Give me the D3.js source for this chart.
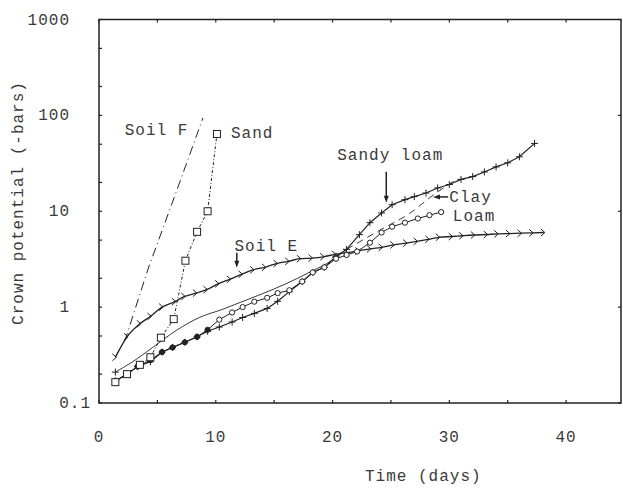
<!DOCTYPE html>
<html>
<head>
<meta charset="utf-8">
<script src="https://cdn.jsdelivr.net/npm/d3@7"></script>
<style>
body { margin: 0; background: #fff; }
text { font-family: "Liberation Mono", "DejaVu Sans Mono", monospace; font-size: 16px; letter-spacing: 1px; fill: #3a3a3a; }
</style>
</head>
<body>
<script>
// data: [day, crown potential (-bars)]
var soilF = [[1.4, 0.3], [2.3, 0.48], [4.2, 2.5], [6.7, 17], [8.9, 94]];
var sand = [[1.4, 0.165], [2.4, 0.2], [3.5, 0.25], [4.4, 0.3], [5.3, 0.48], [6.4, 0.75], [7.4, 3.05], [8.4, 6.1], [9.3, 10], [10.1, 64]];
var soilE = [[1.4, 0.3], [2.4, 0.49], [3.5, 0.67], [4.4, 0.8], [5.4, 1.0], [6.5, 1.14], [7.3, 1.29], [8.3, 1.4], [9.2, 1.52], [10.2, 1.75],
	[11.2, 1.95], [12.2, 2.2], [13.2, 2.45], [14.2, 2.6], [15.2, 2.85], [16.2, 3.0], [17.2, 3.2], [18.2, 3.25], [19.2, 3.35], [20.2, 3.55],
	[21.2, 3.7], [22.2, 3.85], [23.2, 4.05], [24.2, 4.2], [25.2, 4.45], [26.3, 4.65], [27.2, 4.85], [28.2, 5.1], [29.1, 5.35], [30.2, 5.45],
	[31.1, 5.55], [32.1, 5.65], [33.2, 5.72], [34.1, 5.8], [35.1, 5.85], [36.1, 5.9], [37.1, 5.95], [38.1, 6.0]];
var sandyLoam = [[1.4, 0.17], [2.4, 0.2], [3.3, 0.24], [4.4, 0.27], [5.4, 0.34], [6.3, 0.38], [7.35, 0.43], [8.4, 0.49], [9.3, 0.56],
	[10.3, 0.62], [11.4, 0.7], [12.3, 0.78], [13.3, 0.86], [14.4, 0.97], [15.3, 1.15], [16.3, 1.45], [17.4, 1.85], [18.3, 2.3], [19.3, 2.6],
	[20.3, 3.4], [21.2, 4.0], [22.3, 5.7], [23.2, 7.6], [24.2, 9.6], [25.1, 11.7], [26.2, 13.2], [27, 14.2], [28, 15.5], [29, 17.5], [30, 19],
	[31, 21.5], [32, 23], [33, 25.7], [34, 29], [35, 32], [36, 37], [37.3, 51]];
var loam = [[1.4, 0.17], [2.4, 0.2], [3.3, 0.24], [4.4, 0.28], [5.4, 0.34], [6.3, 0.38], [7.35, 0.43], [8.4, 0.49], [9.3, 0.58],
	[10.3, 0.74], [11.4, 0.88], [12.3, 1.0], [13.3, 1.14], [14.4, 1.25], [15.3, 1.4], [16.3, 1.5], [17.4, 1.85], [18.3, 2.3], [19.3, 2.6],
	[20.3, 3.2], [21.2, 3.5], [22.1, 3.8], [23.2, 4.7], [24.2, 6.0], [25.1, 6.9], [26.2, 7.6], [27.3, 8.4], [28.3, 9.1], [29.3, 9.8]];
var clay = [[1.4, 0.21], [2.9, 0.27], [4.6, 0.38], [6.7, 0.58], [8.6, 0.78], [10.6, 0.95], [12.1, 1.12], [14, 1.38], [16, 1.75],
	[18, 2.3], [20, 3.1], [21.2, 4.0], [24, 6.3], [26.6, 9.5], [28.7, 15], [30.5, 21]];
var clayDashFrom = 21.2;

var xTicks = [0, 10, 20, 30, 40];
var xMinor = [0, 5, 10, 15, 20, 25, 30, 35, 40];
var yTicks = [0.1, 1, 10, 100, 1000];
var yMinor = [0.2, 0.5, 2, 5, 20, 50, 200, 500];

var width = 623, height = 488;
var svg = d3.select('body').append('svg')
	.attr('width', width)
	.attr('height', height);

var x = d3.scaleLinear().domain([0, 44.7]).range([99, 621]);
var y = d3.scaleLog().domain([0.1, 1000]).range([403, 19.5]);

var ink = '#222';

// frame
svg.append('rect')
	.attr('x', x(0)).attr('y', y(1000))
	.attr('width', x(44.7) - x(0)).attr('height', y(0.1) - y(1000))
	.attr('fill', 'none').attr('stroke', ink).attr('stroke-width', 1.5);

// ticks (inward)
var tk = svg.append('g').attr('stroke', ink).attr('stroke-width', 1.2);
xMinor.forEach(function (d) {
	tk.append('line').attr('x1', x(d)).attr('x2', x(d)).attr('y1', y(0.1)).attr('y2', y(0.1) - 3);
	tk.append('line').attr('x1', x(d)).attr('x2', x(d)).attr('y1', y(1000)).attr('y2', y(1000) + 3);
});
yTicks.concat(yMinor).forEach(function (d) {
	tk.append('line').attr('x1', x(0)).attr('x2', x(0) + 3).attr('y1', y(d)).attr('y2', y(d));
});
yTicks.forEach(function (d) {
	tk.append('line').attr('x1', x(44.7)).attr('x2', x(44.7) - 3).attr('y1', y(d)).attr('y2', y(d));
});

// tick labels
svg.append('g').selectAll('text').data(xTicks).join('text')
	.attr('x', function (d) { return x(d); })
	.attr('y', 442)
	.attr('text-anchor', 'middle')
	.text(function (d) { return d; });

svg.append('g').selectAll('text').data(yTicks).join('text')
	.attr('x', function (d) { return d < 1 ? 91 : 70; })
	.attr('y', function (d) { return y(d) + 5; })
	.attr('text-anchor', 'end')
	.text(function (d) { return d; });

// axis titles
svg.append('text')
	.attr('x', 365).attr('y', 481)
	.text('Time (days)');
svg.append('text')
	.attr('transform', 'translate(23,203) rotate(-90)')
	.attr('text-anchor', 'middle')
	.text('Crown potential (-bars)');

// lines
var line = d3.line()
	.x(function (d) { return x(d[0]); })
	.y(function (d) { return y(d[1]); });
var smooth = d3.line().curve(d3.curveMonotoneX)
	.x(function (d) { return x(d[0]); })
	.y(function (d) { return y(d[1]); });

var plot = svg.append('g').attr('fill', 'none').attr('stroke', ink);

plot.append('path').datum(soilF).attr('d', line)
	.attr('stroke-width', 1).attr('stroke-dasharray', '9,4,1,4');
plot.append('path').datum(sand).attr('d', line)
	.attr('stroke-width', 1).attr('stroke-dasharray', '3,2,1,2');
plot.append('path').datum(clay.filter(function (d) { return d[0] <= clayDashFrom; })).attr('d', smooth)
	.attr('stroke-width', 0.9);
plot.append('path').datum(clay.filter(function (d) { return d[0] >= clayDashFrom; })).attr('d', smooth)
	.attr('stroke-width', 0.9).attr('stroke-dasharray', '7,5');
plot.append('path').datum(loam).attr('d', line).attr('stroke-width', 1);
plot.append('path').datum(sandyLoam).attr('d', line).attr('stroke-width', 1.2);
plot.append('path').datum(soilE).attr('d', smooth).attr('stroke-width', 1.3);

// markers
var mk = svg.append('g').attr('stroke', ink).attr('stroke-width', 1);

// soil E: right pointing chevrons
mk.selectAll('.se').data(soilE).join('path')
	.attr('class', 'se')
	.attr('fill', 'none')
	.attr('d', function (d) {
		var px = x(d[0]), py = y(d[1]);
		return 'M' + (px - 3) + ',' + (py - 3.5) + 'L' + (px + 1) + ',' + py + 'L' + (px - 3) + ',' + (py + 3.5);
	});

// sandy loam: plus
mk.selectAll('.sl').data(sandyLoam).join('path')
	.attr('class', 'sl')
	.attr('d', function (d) {
		var px = x(d[0]), py = y(d[1]);
		return 'M' + (px - 3.5) + ',' + py + 'H' + (px + 3.5) + 'M' + px + ',' + (py - 3.5) + 'V' + (py + 3.5);
	});
mk.append('path')
	.attr('d', function () {
		var px = x(clay[0][0]), py = y(clay[0][1]);
		return 'M' + (px - 3.5) + ',' + py + 'H' + (px + 3.5) + 'M' + px + ',' + (py - 3.5) + 'V' + (py + 3.5);
	});

// loam: open circles
mk.selectAll('.lo').data(loam).join('circle')
	.attr('class', 'lo')
	.attr('cx', function (d) { return x(d[0]); })
	.attr('cy', function (d) { return y(d[1]); })
	.attr('r', 2.6)
	.attr('fill', function (d) { return d[0] < 9.5 ? ink : '#fff'; });

// sand: open squares
mk.selectAll('.sa').data(sand).join('rect')
	.attr('class', 'sa')
	.attr('x', function (d) { return x(d[0]) - 3.5; })
	.attr('y', function (d) { return y(d[1]) - 3.5; })
	.attr('width', 7).attr('height', 7)
	.attr('fill', '#fff');

// labels and arrows
function label (t, d, v) {
	svg.append('text').attr('x', x(d)).attr('y', y(v)).text(t);
}
label('Soil F', 2.2, 62.7);
label('Sand', 11.3, 58);
label('Sandy loam', 20.4, 34);
label('Clay', 30.0, 12.5);
label('Loam', 30.3, 7.95);
label('Soil E', 11.6, 3.88);

function arrowDown (d, v0, v1) {
	var px = x(d), p0 = y(v0), p1 = y(v1);
	svg.append('line').attr('x1', px).attr('x2', px).attr('y1', p0).attr('y2', p1 - 6)
		.attr('stroke', ink).attr('stroke-width', 1.5);
	svg.append('path').attr('fill', ink)
		.attr('d', 'M' + (px - 2.5) + ',' + (p1 - 7) + 'L' + (px + 2.5) + ',' + (p1 - 7) + 'L' + px + ',' + p1 + 'Z');
}
function arrowLeft (d0, d1, v) {
	var p0 = x(d0), p1 = x(d1), py = y(v);
	svg.append('line').attr('x1', p0).attr('x2', p1 + 6).attr('y1', py).attr('y2', py)
		.attr('stroke', ink).attr('stroke-width', 1.5);
	svg.append('path').attr('fill', ink)
		.attr('d', 'M' + (p1 + 7) + ',' + (py - 2.5) + 'L' + (p1 + 7) + ',' + (py + 2.5) + 'L' + p1 + ',' + py + 'Z');
}
arrowDown(24.6, 25.8, 12.3);
arrowDown(11.8, 3.7, 2.58);
arrowLeft(29.9, 28.6, 14.1);
</script>
</body>
</html>
